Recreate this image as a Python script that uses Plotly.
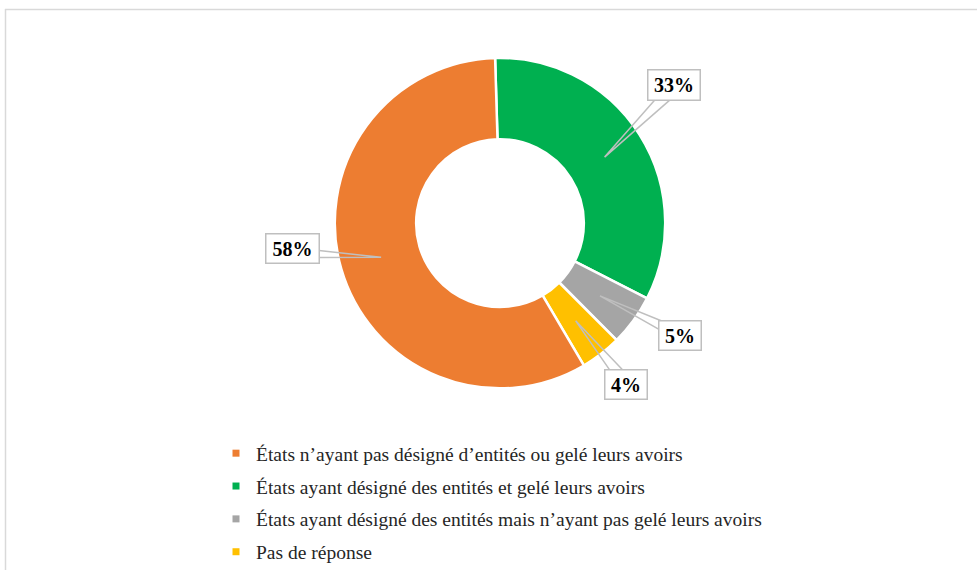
import math
import plotly.graph_objects as go

# ---- data ----
categories = [
    "États n’ayant pas désigné d’entités ou gelé leurs avoirs",
    "États ayant désigné des entités et gelé leurs avoirs",
    "États ayant désigné des entités mais n’ayant pas gelé leurs avoirs",
    "Pas de réponse",
]
values = [58, 33, 5, 4]
colors = ["#ED7D31", "#00B050", "#A5A5A5", "#FFC000"]
pie_order = [1, 2, 3, 0]  # clockwise from 12 o'clock

W, H = 977, 571
CX, CY, R_OUT, R_IN = 500, 223.5, 165.5, 84
ROT = -1.7


def px(x):
    return x / W


def py(y):
    return 1 - y / H


fig = go.Figure()

fig.add_trace(go.Pie(
    labels=[categories[i] for i in pie_order],
    values=[values[i] for i in pie_order],
    marker=dict(colors=[colors[i] for i in pie_order], line=dict(color="white", width=2.5)),
    hole=R_IN / R_OUT,
    sort=False,
    direction="clockwise",
    rotation=ROT,
    textinfo="none",
    hoverinfo="label+percent",
    showlegend=False,
    domain=dict(x=[px(CX - R_OUT), px(CX + R_OUT)], y=[py(CY + R_OUT), py(CY - R_OUT)]),
))

# legend entries
for cat, col in zip(categories, colors):
    fig.add_trace(go.Scatter(
        x=[None], y=[None], mode="markers", name=cat,
        marker=dict(symbol="square", size=7, color=col),
        legendgroup=cat, showlegend=True,
    ))

# label boxes (layout positions, pixel boxes) and tails
box_pos = {
    0: dict(x0=266, y0=234, x1=319, y1=263, tail=[(319, 251), (319, 258)]),
    1: dict(x0=648, y0=70, x1=700, y1=100, tail=[(655, 100), (670, 100)]),
    2: dict(x0=659, y0=322, x1=701, y1=351, tail=[(663, 322), (659, 330)]),
    3: dict(x0=605, y0=371, x1=647, y1=400, tail=[(610, 371), (623, 371)]),
}

total = sum(values)
cum = 0
mid_frac = {}
for i in pie_order:
    mid_frac[i] = (cum + values[i] / 2) / total
    cum += values[i]

shapes = []
annotations = []
r_mid = (R_IN + R_OUT) / 2 - 1
for i, b in box_pos.items():
    ang = 2 * math.pi * mid_frac[i] + math.radians(ROT)
    tx = CX + r_mid * math.sin(ang)
    ty = CY - r_mid * math.cos(ang)
    (ax, ay), (bx, by) = b["tail"]
    path = f"M{px(ax)},{py(ay)} L{px(tx)},{py(ty)} L{px(bx)},{py(by)}"
    shapes.append(dict(type="path", path=path, xref="paper", yref="paper",
                       line=dict(color="#BFBFBF", width=1.5), layer="above"))
    annotations.append(dict(
        x=px((b["x0"] + b["x1"]) / 2), y=py((b["y0"] + b["y1"]) / 2),
        xref="paper", yref="paper", showarrow=False,
        text=f"<b>{values[i]}%</b>",
        font=dict(family="Liberation Serif", size=20, color="#000000"),
        bgcolor="white", bordercolor="#BFBFBF", borderwidth=1.5, borderpad=1,
        width=b["x1"] - b["x0"] - 3, height=b["y1"] - b["y0"] - 3,
        xanchor="center", yanchor="middle",
    ))

# chart frame
shapes.append(dict(type="line", xref="paper", yref="paper", x0=px(5), x1=px(977), y0=py(9.5), y1=py(9.5),
                   line=dict(color="#D9D9D9", width=1.5)))
shapes.append(dict(type="line", xref="paper", yref="paper", x0=px(5.5), x1=px(5.5), y0=py(9), y1=py(571),
                   line=dict(color="#D9D9D9", width=1.5)))

fig.update_layout(
    width=W, height=H,
    margin=dict(l=0, r=0, t=0, b=0),
    paper_bgcolor="white", plot_bgcolor="white",
    xaxis=dict(visible=False), yaxis=dict(visible=False),
    shapes=shapes, annotations=annotations,
    legend=dict(
        x=px(216), y=py(435), xanchor="left", yanchor="top",
        font=dict(family="Liberation Serif", size=19.5, color="#262626"),
        traceorder="grouped", tracegroupgap=4.5,
        bgcolor="rgba(0,0,0,0)",
    ),
    showlegend=True,
)

fig.write_html("out.html")
